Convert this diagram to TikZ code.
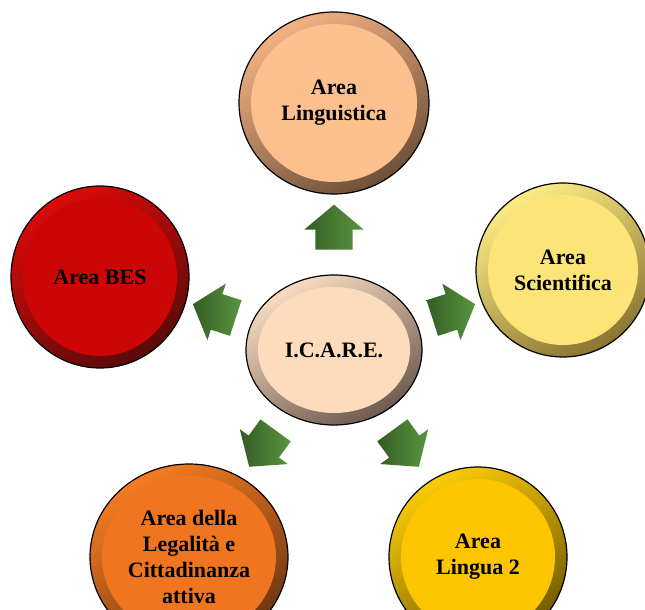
\documentclass[tikz,border=0pt]{standalone}
\usepackage{fontspec}
\setmainfont{Liberation Serif}
\usetikzlibrary{shapes.geometric,shapes.arrows,calc}

\definecolor{lingface}{HTML}{FCC08E}
\definecolor{linglight}{HTML}{F2B283}
\definecolor{lingdark}{HTML}{6E5038}
\definecolor{besface}{HTML}{CC0606}
\definecolor{beslight}{HTML}{DA0A0A}
\definecolor{besdark}{HTML}{5A0A0A}
\definecolor{sciface}{HTML}{FCE576}
\definecolor{scilight}{HTML}{FCEC84}
\definecolor{scidark}{HTML}{8A7432}
\definecolor{legface}{HTML}{EF7520}
\definecolor{leglight}{HTML}{F47C22}
\definecolor{legdark}{HTML}{6A3410}
\definecolor{l2face}{HTML}{FDC500}
\definecolor{l2light}{HTML}{F8CA08}
\definecolor{l2dark}{HTML}{6E5800}
\definecolor{icareface}{HTML}{FDDCBE}
\definecolor{icarelight}{HTML}{F8DCC2}
\definecolor{icaredark}{HTML}{6E5A50}
\definecolor{arrowlight}{HTML}{5A9640}
\definecolor{arrowdark}{HTML}{345C25}

\tikzset{
	area/.style n args={3}{ellipse, draw=black, line width=1.2pt, inner sep=0pt,
		minimum width=182pt, minimum height=182pt, align=center,
		font=\fontsize{22}{26}\selectfont\bfseries,
		shading=axis, top color=#2, bottom color=#3, shading angle=30,
		path picture={\fill[#1] let \p1=($(path picture bounding box.north east)-(path picture bounding box.center)$)
			in (path picture bounding box.center) ellipse [x radius=\x1-12pt, y radius=\y1-12pt];}},
	push/.style={single arrow, draw=none, inner xsep=0pt, inner ysep=18.5pt, minimum height=45pt,
		single arrow head extend=11pt, single arrow tip angle=100,
		shading=axis, left color=arrowdark, right color=arrowlight, rotate=#1}
}

\begin{document}
\begin{tikzpicture}[x=1pt, y=1pt]
	\useasboundingbox (-334,-260) rectangle (311,350);
	% centre
	\node [area={icareface}{icarelight}{icaredark}, minimum width=176pt, minimum height=150pt]	(icare)	at (0,0)	{I.C.A.R.E.};
	% the five areas
	\node [area={lingface}{linglight}{lingdark}, minimum width=190pt]	(linguistica)	at (0,247)	{Area\\Linguistica};
	\node [area={besface}{beslight}{besdark}, minimum width=178pt]	(bes)	at (-234,73)	{Area BES};
	\node [area={sciface}{scilight}{scidark}, minimum width=174pt, minimum height=174pt]	(scientifica)	at (229,80)	{Area\\Scientifica};
	\node [area={legface}{leglight}{legdark}, minimum width=198pt, minimum height=186pt]	(legalita)	at (-145,-207)	{Area della\\Legalità e\\Cittadinanza\\attiva};
	\node [area={l2face}{l2light}{l2dark}, minimum width=178pt, minimum height=180pt]	(lingua2)	at (144,-207)	{Area\\Lingua 2};
	% arrows out of the centre
	\node [push=90]		(toling)	at (90:115)		{};
	\node [push=162]	(tobes)		at (162:118)	{};
	\node [push=18]		(tosci)		at (18:118)		{};
	\node [push=234]	(toleg)		at (234:114)	{};
	\node [push=306]	(tol2)		at (306:114)	{};
\end{tikzpicture}
\end{document}
